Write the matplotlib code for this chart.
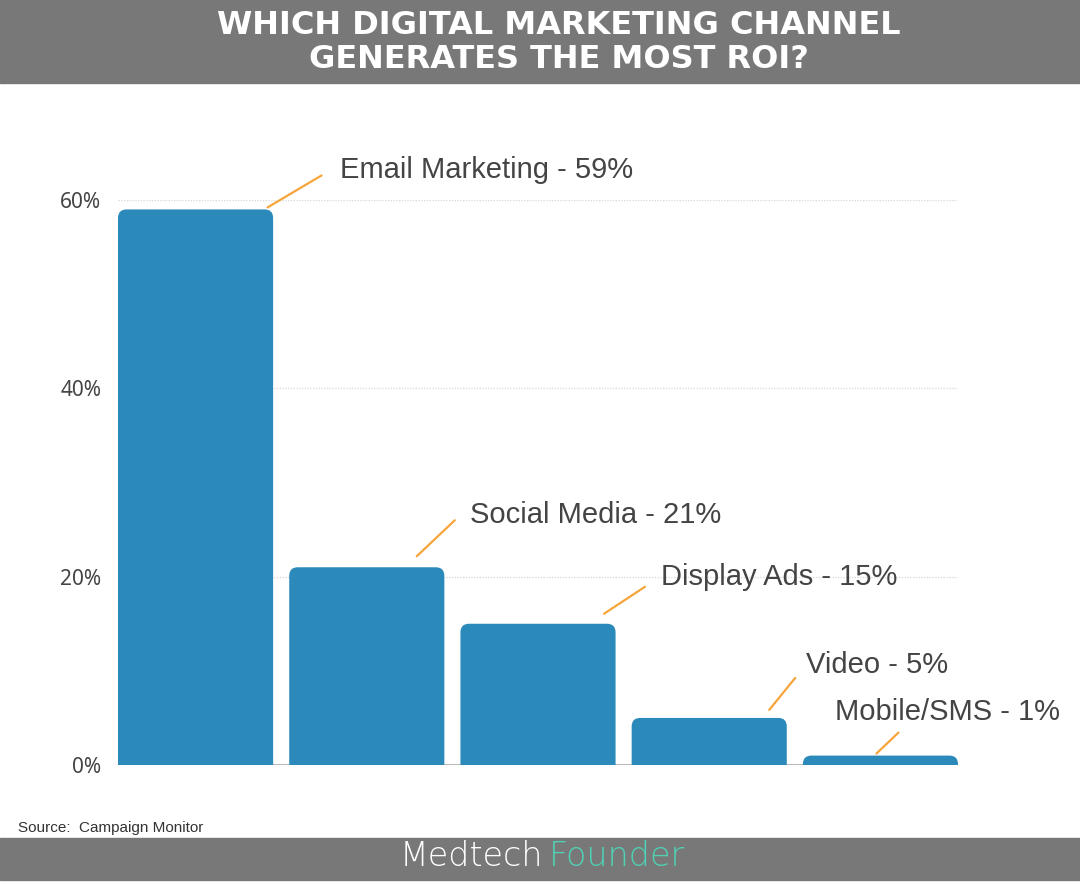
import matplotlib.pyplot as plt
import matplotlib.patches as patches
from matplotlib.transforms import offset_copy

channels = ["Email Marketing", "Social Media", "Display Ads", "Video", "Mobile/SMS"]
roi_share = [59, 21, 15, 5, 1]
y_ticks = [0, 20, 40, 60]
y_tick_labels = ["0%", "20%", "40%", "60%"]
title_lines = ["WHICH DIGITAL MARKETING CHANNEL", "GENERATES THE MOST ROI?"]

# label layout, pixel offsets from the top-centre of each bar
line_start = [(72, 2), (50, 11), (66, 10), (60, 8), (-4, 2)]
line_end = [(126, 34), (88, 47), (107, 37), (86, 40), (18, 23)]
text_pos = [(144, 39), (103, 52), (123, 47), (97, 53), (-45, 44)]

BAR = "#2c8aba"
ORANGE = "#f7a53a"
GREY = "#777877"
TEXT = "#444444"

fig = plt.figure(figsize=(10.8, 8.85), dpi=100)
fig.patch.set_facecolor("white")

# header / footer bands
fig.patches.append(patches.Rectangle((0, 1 - 83 / 885), 1, 83 / 885, transform=fig.transFigure,
                                     color=GREY, zorder=0))
fig.patches.append(patches.Rectangle((0, 5 / 885), 1, 42 / 885, transform=fig.transFigure,
                                     color=GREY, zorder=0))
for line, ypix in zip(title_lines, [25, 60]):
    fig.text(559 / 1080, 1 - ypix / 885, line, ha="center", va="center", color="white",
             fontsize=23, fontweight="bold", family="DejaVu Sans")
fig.text(543 / 1080, 28 / 885, "Medtech", ha="right", va="center", color="white",
         fontsize=24, family="DejaVu Sans", fontweight="light")
fig.text(549 / 1080, 28 / 885, "Founder", ha="left", va="center", color="#4fd2b6",
         fontsize=24, family="DejaVu Sans", fontweight="light")
fig.text(18 / 1080, 1 - 828 / 885, "Source:  Campaign Monitor", ha="left", va="center",
         color="#333333", fontsize=11, family="Liberation Sans")

ax = fig.add_axes([118 / 1080, 120 / 885, 840 / 1080, 565 / 885])
ax.set_xlim(-0.453, 4.453)
ax.set_ylim(0, 60)

bars = ax.bar(range(len(channels)), roi_share, width=0.906, color=BAR)
# swap plain rectangles for ones with rounded tops (bottom is hidden below 0)
for b in bars:
    x, w, h = b.get_x(), b.get_width(), b.get_height()
    b.remove()
    ax.add_patch(patches.FancyBboxPatch((x, -2), w, h + 2,
                                        boxstyle="round,pad=0,rounding_size=0.05",
                                        mutation_aspect=18, color=BAR, lw=0, zorder=3))

ax.set_yticks(y_ticks)
ax.set_yticklabels(y_tick_labels, family="Noto Sans", fontsize=15, color=TEXT)
ax.tick_params(axis="y", length=0, pad=12)
ax.set_xticks([])
for s in ax.spines.values():
    s.set_visible(False)
for t in y_ticks[1:]:
    ax.axhline(t, color="#dddddd", lw=1, ls=(0, (1, 1)), zorder=1)
ax.axhline(0, color="#bbbbbb", lw=1.5, zorder=2)

for i, (name, v) in enumerate(zip(channels, roi_share)):
    t0 = offset_copy(ax.transData, fig=fig, x=line_start[i][0], y=line_start[i][1], units="dots")
    t1 = offset_copy(ax.transData, fig=fig, x=line_end[i][0], y=line_end[i][1], units="dots")
    ax.annotate("", xy=(i, v), xycoords=t0, xytext=(i, v), textcoords=t1,
                arrowprops=dict(arrowstyle="-", color=ORANGE, lw=1.6, shrinkA=0, shrinkB=0),
                annotation_clip=False)
    ax.annotate(f"{name} - {v}%", xy=(i, v), xytext=text_pos[i], textcoords="offset pixels",
                ha="left", va="center", fontsize=21, color=TEXT, family="Liberation Sans",
                annotation_clip=False)

fig.savefig("out.png", dpi=100)
